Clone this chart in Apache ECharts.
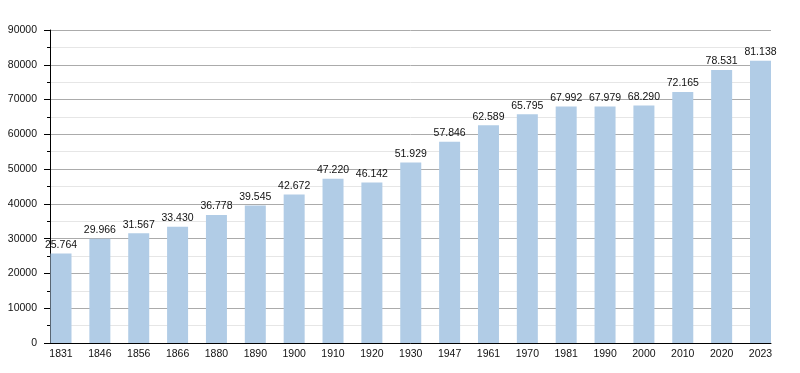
<!DOCTYPE html>
<html><head><meta charset="utf-8">
<script src="https://cdn.jsdelivr.net/npm/echarts@6/dist/echarts.min.js"></script>
<style>html,body{margin:0;padding:0;background:#fff}#c{width:800px;height:373px}</style>
</head><body><div id="c"></div>
<script>
const years = ['1831','1846','1856','1866','1880','1890','1900','1910','1920','1930','1947','1961','1970','1981','1990','2000','2010','2020','2023'];
const population = [25764,29966,31567,33430,36778,39545,42672,47220,46142,51929,57846,62589,65795,67992,67979,68290,72165,78531,81138];
const yTicks = [0,10000,20000,30000,40000,50000,60000,70000,80000,90000];

const chart = echarts.init(document.getElementById('c'), null, {renderer:'canvas'});
const font = 'Liberation Sans, Arial, sans-serif';
const yMin = yTicks[0], yMax = yTicks[yTicks.length-1];
chart.setOption({
  animation:false,
  grid:[
    {left:50,right:29,top:30,bottom:30,containLabel:false},
    {left:61,right:39.5,top:30,bottom:30,containLabel:false}
  ],
  xAxis:[
    {gridIndex:0,type:'category',data:years,
     axisLine:{lineStyle:{color:'#000',width:1}},
     axisTick:{show:false},axisLabel:{show:false}},
    {gridIndex:1,type:'category',data:years,boundaryGap:false,
     axisLine:{show:false},axisTick:{show:false},splitLine:{show:false},
     axisLabel:{color:'#111',fontSize:10.5,fontFamily:font,margin:6,interval:0}}
  ],
  yAxis:[
    {gridIndex:0,type:'value',min:yMin,max:yMax,interval:10000,
     axisLine:{show:true,lineStyle:{color:'#000',width:1}},
     axisTick:{show:true,length:6,lineStyle:{color:'#000'}},
     minorTick:{show:true,splitNumber:2,length:3,lineStyle:{color:'#000'}},
     splitLine:{show:true,lineStyle:{color:'#ababab',width:1}},
     minorSplitLine:{show:true,lineStyle:{color:'#e6e6e6',width:1}},
     axisLabel:{color:'#111',fontSize:10.5,fontFamily:font,margin:13,formatter:v=>String(v)}},
    {gridIndex:1,type:'value',min:yMin,max:yMax,interval:10000,show:false,
     splitLine:{show:false}}
  ],
  series:[{
    type:'bar', xAxisIndex:1, yAxisIndex:1, data:population, barWidth:21,
    itemStyle:{color:'#b1cce6'},
    label:{show:true,position:'top',distance:3,color:'#111',fontSize:10.5,fontFamily:font,
      formatter:p=>String(p.value).replace(/\B(?=(\d{3})+(?!\d))/g,'.')}
  }]
});
</script></body></html>
